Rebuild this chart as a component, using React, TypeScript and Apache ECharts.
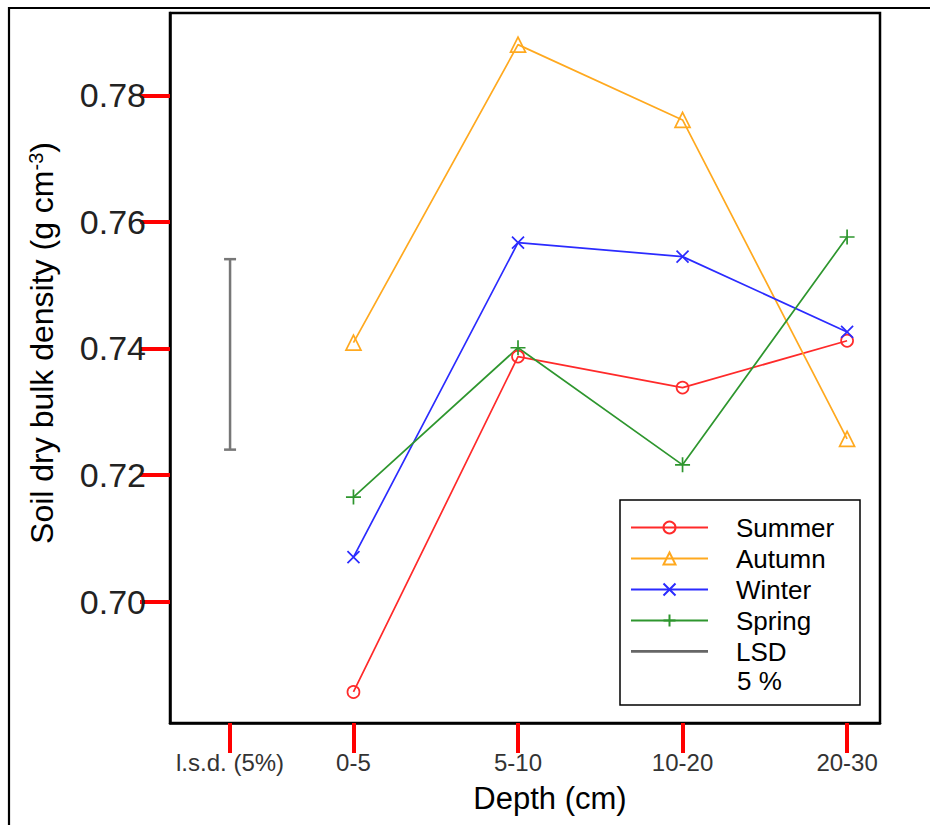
import React, { useEffect, useRef } from "react";
import * as echarts from "echarts";

// Depth classes and their positions on the x axis (the l.s.d. bar sits left of them)
const depthLabels = ["0-5", "5-10", "10-20", "20-30"];
const depthPos = [1, 2, 3, 4];
const lsdPos = 0.25;
const lsdLabel = "l.s.d. (5%)";

// Soil dry bulk density (g cm-3) per season and depth
const summer = [0.6857, 0.7387, 0.7338, 0.7412];
const autumn = [0.7409, 0.788, 0.7761, 0.7257];
const winter = [0.707, 0.7567, 0.7545, 0.7426];
const spring = [0.7165, 0.7401, 0.7216, 0.7576];

// Least significant difference bar (5 %)
const lsdLow = 0.724;
const lsdHigh = 0.7541;

const yTicks = [0.7, 0.72, 0.74, 0.76, 0.78];

const X_MIN = -0.115;
const X_MAX = 4.2;
const Y_MIN = 0.6808;
const Y_MAX = 0.793;

const FONT = "'Liberation Sans', Arial, Helvetica, sans-serif";

const pairs = (vals: number[]) => vals.map((v, i) => [depthPos[i], v]);

export default function App() {
  const ref = useRef<HTMLDivElement>(null);

  useEffect(() => {
    if (!ref.current) return;
    const chart = echarts.init(ref.current, undefined, { renderer: "svg" });

    const lineSeries = (
      name: string,
      vals: number[],
      color: string,
      symbol: string,
      symbolSize: number
    ) => ({
      name,
      type: "line",
      data: pairs(vals),
      symbol,
      symbolSize,
      showSymbol: true,
      lineStyle: { color, width: 1.7 },
      itemStyle: { color: "none", borderColor: color, borderWidth: 1.7 },
      emphasis: { disabled: true },
      z: 3,
    });

    const xLabelMap: Record<string, string> = { [String(lsdPos)]: lsdLabel };
    depthPos.forEach((p, i) => (xLabelMap[String(p)] = depthLabels[i]));
    const xTickVals = [lsdPos, ...depthPos];

    chart.setOption({
      animation: false,
      backgroundColor: "#ffffff",
      textStyle: { fontFamily: FONT },
      grid: {
        left: 170,
        top: 13,
        right: 50,
        bottom: 102,
        show: true,
        borderColor: "#000",
        borderWidth: 2.5,
        backgroundColor: "transparent",
      },
      xAxis: {
        type: "value",
        min: X_MIN,
        max: X_MAX,
        splitLine: { show: false },
        axisLine: { show: true, onZero: false, lineStyle: { color: "#000", width: 2.5 } },
        axisTick: {
          show: true,
          length: 30,
          lineStyle: { color: "#ff0000", width: 4 },
          customValues: xTickVals,
        },
        axisLabel: {
          customValues: xTickVals,
          formatter: (v: number) => xLabelMap[String(v)] ?? "",
          fontSize: 24,
          color: "#333",
          margin: 27,
          fontFamily: FONT,
        },
        name: "Depth (cm)",
        nameLocation: "middle",
        nameGap: 60,
        nameTextStyle: {
          fontSize: 31,
          color: "#000",
          fontFamily: FONT,
          padding: [0, 0, 0, 50],
        },
      },
      yAxis: {
        type: "value",
        min: Y_MIN,
        max: Y_MAX,
        splitLine: { show: false },
        axisLine: { show: true, onZero: false, lineStyle: { color: "#000", width: 2.5 } },
        axisTick: {
          show: true,
          length: 30,
          lineStyle: { color: "#ff0000", width: 4 },
          customValues: yTicks,
        },
        axisLabel: {
          customValues: yTicks,
          formatter: (v: number) => v.toFixed(2),
          fontSize: 34,
          color: "#222",
          margin: 24,
          fontFamily: FONT,
        },
        name: "Soil dry bulk density (g cm{sup|-3})",
        nameLocation: "middle",
        nameGap: 112,
        nameRotate: 90,
        nameTextStyle: {
          fontSize: 32,
          color: "#000",
          fontFamily: FONT,
          padding: [0, 0, 0, 50],
          rich: {
            sup: { fontSize: 20, verticalAlign: "top", color: "#000", fontFamily: FONT },
          },
        },
      },
      legend: {
        orient: "vertical",
        left: 630,
        top: 512,
        padding: 0,
        itemGap: 0,
        itemWidth: 77,
        itemHeight: 15,
        selectedMode: false,
        textStyle: {
          fontSize: 26,
          color: "#000",
          fontFamily: FONT,
          lineHeight: 31,
          padding: [0, 0, 0, 23],
        },
        data: [
          { name: "Summer" },
          { name: "Autumn" },
          { name: "Winter" },
          { name: "Spring" },
          {
            name: "LSD",
            icon: "path://M0,0M0,6H77V8.8H0ZM77,15",
            itemStyle: { color: "#666" },
          },
        ],
        z: 10,
      },
      graphic: [
        // page frame: top and left edges
        {
          type: "line",
          shape: { x1: 8, y1: 8, x2: 935, y2: 8 },
          style: { stroke: "#000", lineWidth: 2.2 },
          silent: true,
        },
        {
          type: "line",
          shape: { x1: 9, y1: 7, x2: 9, y2: 830 },
          style: { stroke: "#000", lineWidth: 2.2 },
          silent: true,
        },
        // legend box
        {
          type: "rect",
          shape: { x: 620, y: 500, width: 240, height: 205 },
          style: { fill: "#fff", stroke: "#000", lineWidth: 1.5 },
          z: 5,
          silent: true,
        },
        {
          type: "text",
          left: 737,
          top: 668,
          style: { text: "5 %", font: `26px ${FONT}`, fill: "#000" },
          z: 11,
          silent: true,
        },
      ],
      series: [
        lineSeries("Summer", summer, "#ff2a2a", "circle", 12),
        lineSeries("Autumn", autumn, "#ffa91f", "triangle", 15),
        lineSeries("Winter", winter, "#2b2bff", "path://M0,0L10,10M10,0L0,10", 12),
        lineSeries("Spring", spring, "#2e962e", "path://M5,0V10M0,5H10", 15),
        {
          name: "LSD",
          type: "custom",
          data: [[lsdPos, lsdLow, lsdHigh]],
          encode: { x: 0, y: [1, 2] },
          itemStyle: { color: "#666" },
          renderItem: (params: any, api: any) => {
            const x = api.value(0);
            const lo = api.coord([x, api.value(1)]);
            const hi = api.coord([x, api.value(2)]);
            const cap = 6;
            const style = { stroke: "#777", lineWidth: 2.5, fill: "none" };
            return {
              type: "group",
              children: [
                { type: "line", shape: { x1: lo[0], y1: lo[1], x2: hi[0], y2: hi[1] }, style },
                { type: "line", shape: { x1: lo[0] - cap, y1: lo[1], x2: lo[0] + cap, y2: lo[1] }, style },
                { type: "line", shape: { x1: hi[0] - cap, y1: hi[1], x2: hi[0] + cap, y2: hi[1] }, style },
              ],
            };
          },
          z: 3,
        },
      ],
    });

    return () => chart.dispose();
  }, []);

  return (
    <div
      ref={ref}
      style={{ position: "fixed", left: 0, top: 0, width: 930, height: 825, background: "#fff" }}
    />
  );
}
